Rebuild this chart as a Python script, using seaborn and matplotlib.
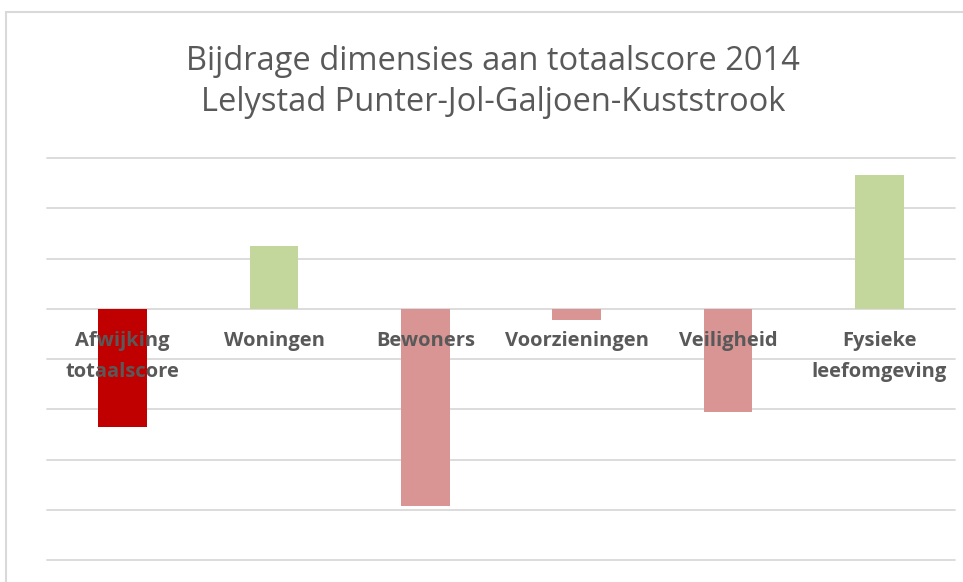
import matplotlib
matplotlib.use("Agg")
import matplotlib.pyplot as plt
import seaborn as sns
import pandas as pd
from matplotlib.lines import Line2D

# ==== DATA ====
categories = ["Afwijking\ntotaalscore", "Woningen", "Bewoners", "Voorzieningen",
              "Veiligheid", "Fysieke\nleefomgeving"]
values = [-2.35, 1.25, -3.92, -0.22, -2.05, 2.66]
bar_colors = ["#C00000", "#C3D69B", "#D99594", "#D99594", "#D99594", "#C3D69B"]
grid_ticks = [-5, -4, -3, -2, -1, 0, 1, 2, 3]
title_lines = ["Bijdrage dimensies aan totaalscore 2014",
               "Lelystad Punter-Jol-Galjoen-Kuststrook"]

df = pd.DataFrame({"categorie": categories, "waarde": values})

sns.set_style("white")
plt.rcParams["font.family"] = ["Open Sans", "DejaVu Sans"]

fig = plt.figure(figsize=(9.63, 5.82), dpi=100)
ax = fig.add_axes([47 / 963, 1 - 560 / 582, (955 - 47) / 963, (560 - 158) / 582])

sns.barplot(data=df, x="categorie", y="waarde", hue="categorie",
            palette=bar_colors, width=0.32, legend=False, ax=ax,
            saturation=1, edgecolor="none")

ax.set_ylim(-5, 3)
ax.set_xlim(-0.5, len(categories) - 0.5)
ax.set_yticks(grid_ticks)
ax.set_yticklabels([])
ax.tick_params(axis="y", length=0)
ax.grid(axis="y", color="#D9D9D9", linewidth=1.3)
ax.set_axisbelow(True)
ax.xaxis.set_zorder(5)
for gl in ax.get_ygridlines():
    gl.set_clip_on(False)

for side in ["top", "right", "left", "bottom"]:
    ax.spines[side].set_visible(False)
ax.spines["bottom"].set_position(("data", 0))

ax.set_xlabel("")
ax.set_ylabel("")
ax.tick_params(axis="x", length=0, pad=16, labelsize=14.5, labelcolor="#595959")
for lbl in ax.get_xticklabels():
    lbl.set_fontweight("bold")
    lbl.set_linespacing(1.75)

fig.text(493 / 963, 1 - 82 / 582, "\n".join(title_lines), ha="center", va="center",
         fontsize=23.5, color="#595959", linespacing=1.3)

# chart frame
fig.add_artist(Line2D([6 / 963, 1], [1 - 12 / 582, 1 - 12 / 582], color="#D9D9D9", linewidth=1.5))
fig.add_artist(Line2D([6 / 963, 6 / 963], [0, 1 - 12 / 582], color="#D9D9D9", linewidth=1.5))

fig.savefig("out.png", dpi=100, facecolor="white")
